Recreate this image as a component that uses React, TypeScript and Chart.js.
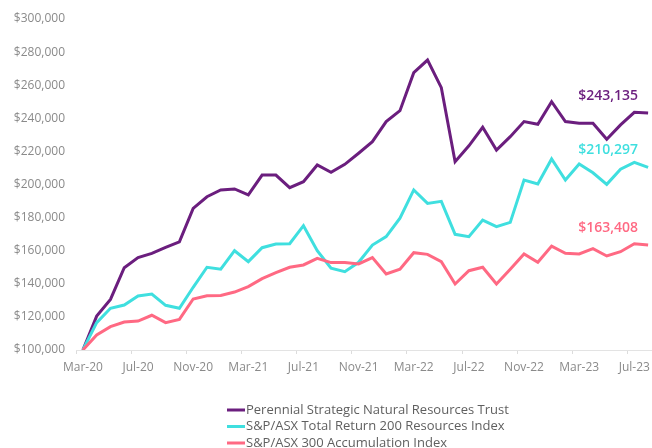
import React, { useEffect, useRef } from 'react';
import { Chart, registerables } from 'chart.js';

Chart.register(...registerables);

const months = [
  'Mar-20', 'Apr-20', 'May-20', 'Jun-20', 'Jul-20', 'Aug-20', 'Sep-20', 'Oct-20', 'Nov-20', 'Dec-20',
  'Jan-21', 'Feb-21', 'Mar-21', 'Apr-21', 'May-21', 'Jun-21', 'Jul-21', 'Aug-21', 'Sep-21', 'Oct-21',
  'Nov-21', 'Dec-21', 'Jan-22', 'Feb-22', 'Mar-22', 'Apr-22', 'May-22', 'Jun-22', 'Jul-22', 'Aug-22',
  'Sep-22', 'Oct-22', 'Nov-22', 'Dec-22', 'Jan-23', 'Feb-23', 'Mar-23', 'Apr-23', 'May-23', 'Jun-23',
  'Jul-23', 'Aug-23',
];

const trust = [
  100000, 120500, 130600, 149700, 155800, 158400, 162000, 165300, 185600, 192600,
  196700, 197300, 193700, 205700, 205700, 198100, 201700, 211800, 207400, 212200,
  218900, 225900, 238000, 244600, 267600, 275200, 258500, 213800, 223400, 234600,
  220800, 228900, 238000, 236400, 250000, 238000, 237000, 237000, 227300, 236000,
  243600, 243135,
];

const resourcesIndex = [
  100000, 116500, 125200, 127200, 132600, 133800, 127000, 125200, 137900, 150000,
  148800, 160000, 153400, 161800, 164000, 164200, 175100, 160000, 149400, 147300,
  153000, 163400, 168500, 179600, 196700, 188600, 189800, 169900, 168500, 178500,
  174500, 177100, 202700, 200300, 215400, 202700, 212400, 207100, 200100, 209200,
  213400, 210297,
];

const accumulationIndex = [
  100000, 109100, 114100, 116900, 117500, 121000, 116500, 118500, 130800, 132800,
  133000, 135000, 138300, 143100, 146700, 150000, 151400, 155400, 152800, 152800,
  152000, 155800, 145900, 148800, 158800, 157800, 153400, 139900, 147900, 150000,
  139900, 148800, 158000, 153000, 162800, 158400, 158000, 161200, 156800, 159400,
  164200, 163408,
];

const seriesNames = [
  'Perennial Strategic Natural Resources Trust',
  'S&P/ASX Total Return 200 Resources Index',
  'S&P/ASX 300 Accumulation Index',
];

const seriesColors = ['#6B1E7E', '#3FDFDF', '#FF6983'];

const FONT = '"Open Sans", "Noto Sans", sans-serif';

const endLabels = {
  id: 'endLabels',
  afterDatasetsDraw(chart: any) {
    const ctx = chart.ctx;
    chart.data.datasets.forEach((ds: any, i: number) => {
      const meta = chart.getDatasetMeta(i);
      const pt = meta.data[meta.data.length - 1];
      const v = ds.data[ds.data.length - 1];
      ctx.save();
      ctx.font = `600 14px ${FONT}`;
      ctx.fillStyle = ds.borderColor;
      ctx.textAlign = 'center';
      ctx.textBaseline = 'middle';
      ctx.fillText('$' + Math.round(v).toLocaleString('en-US'), pt.x - 40, pt.y - 17);
      ctx.restore();
    });
  },
};

const stackedLegend = {
  id: 'stackedLegend',
  afterDraw(chart: any) {
    const ctx = chart.ctx;
    const x0 = 227;
    const y0 = 410;
    const gap = 16.5;
    chart.data.datasets.forEach((ds: any, i: number) => {
      const y = y0 + i * gap;
      ctx.save();
      ctx.strokeStyle = ds.borderColor;
      ctx.lineWidth = 3;
      ctx.beginPath();
      ctx.moveTo(x0, y);
      ctx.lineTo(x0 + 18, y);
      ctx.stroke();
      ctx.font = `13px ${FONT}`;
      ctx.fillStyle = '#5f5f5f';
      ctx.textAlign = 'left';
      ctx.textBaseline = 'middle';
      ctx.fillText(ds.label, x0 + 19, y);
      ctx.restore();
    });
  },
};

export default function App() {
  const canvasRef = useRef<HTMLCanvasElement | null>(null);

  useEffect(() => {
    if (!canvasRef.current) return;
    const seriesData = [trust, resourcesIndex, accumulationIndex];
    const chart = new Chart(canvasRef.current, {
      type: 'line',
      data: {
        labels: months,
        datasets: seriesData.map((d, i) => ({
          label: seriesNames[i],
          data: d,
          borderColor: seriesColors[i],
          backgroundColor: seriesColors[i],
          borderWidth: 3,
          pointRadius: 0,
          tension: 0,
          order: 3 - i,
          fill: false,
        })),
      },
      options: {
        animation: false,
        responsive: true,
        maintainAspectRatio: false,
        layout: { padding: { top: 19, left: 0, right: 0, bottom: 0 } },
        plugins: {
          legend: { display: false },
          tooltip: { enabled: false },
        },
        scales: {
          x: {
            offset: true,
            grid: {
              display: true,
              offset: true,
              drawOnChartArea: false,
              drawTicks: true,
              tickLength: 4,
              color: (c: any) => (c.index % 4 === 0 ? '#dcdcdc' : 'rgba(0,0,0,0)'),
            },
            border: { display: true, color: '#e3e3e3', width: 1 },
            ticks: {
              autoSkip: false,
              maxRotation: 0,
              padding: 6,
              color: '#8a8a8a',
              font: { family: FONT, size: 12 },
              callback: (_v: any, i: number) => (i % 4 === 0 ? months[i] : ''),
            },
            afterFit: (s: any) => {
              s.height = 98;
            },
          },
          y: {
            min: 100000,
            max: 300000,
            grid: { display: false, drawTicks: false, tickLength: 0 },
            border: { display: false },
            ticks: {
              stepSize: 20000,
              padding: 11,
              color: '#8a8a8a',
              font: { family: FONT, size: 12 },
              callback: (v: any) => '$' + Number(v).toLocaleString('en-US'),
            },
            afterFit: (s: any) => {
              s.width = 76;
            },
          },
        },
      },
      plugins: [endLabels, stackedLegend],
    });
    return () => chart.destroy();
  }, []);

  return (
    <div style={{ position: 'absolute', left: 0, top: 0, width: 652, height: 448, overflow: 'hidden', background: '#fff' }}>
      <div style={{ position: 'relative', width: 655, height: 448 }}>
        <canvas ref={canvasRef} />
      </div>
    </div>
  );
}
